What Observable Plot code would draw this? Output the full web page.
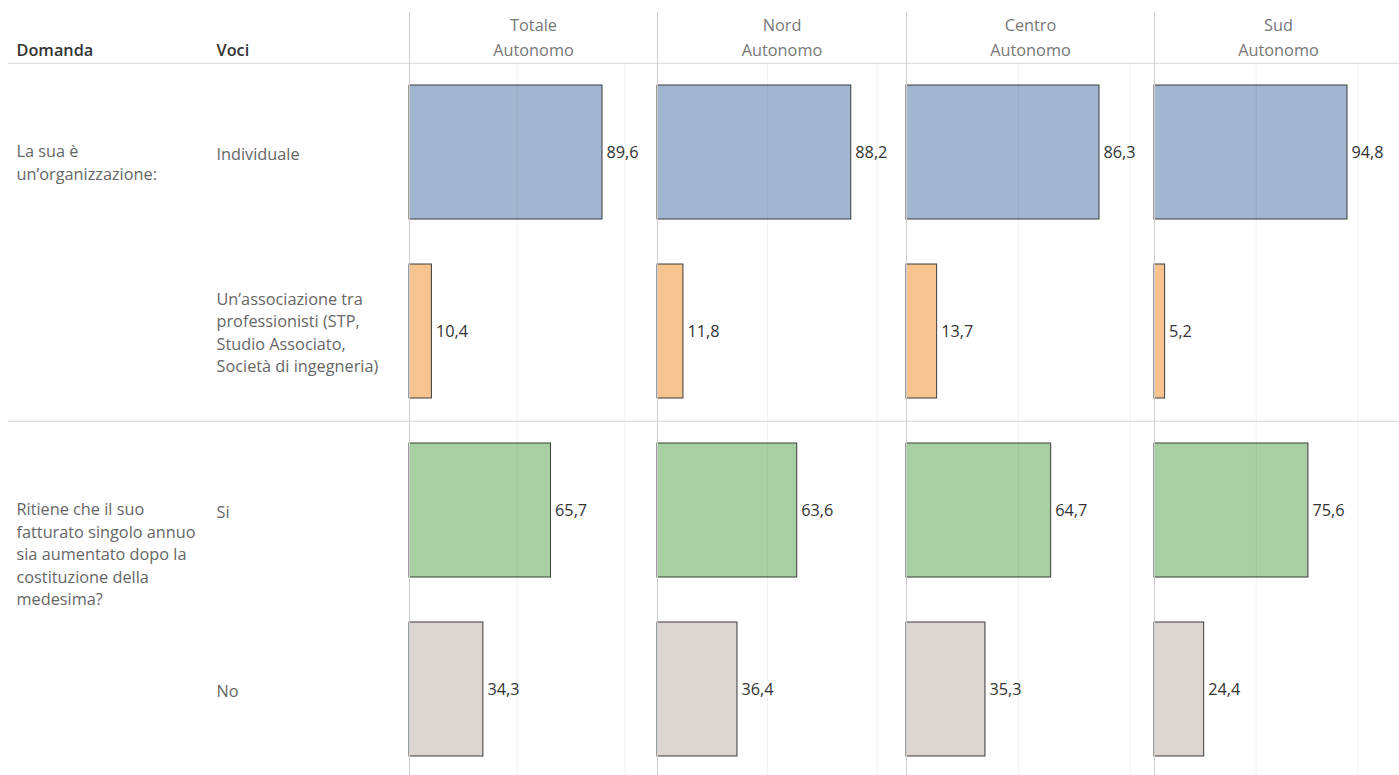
<!DOCTYPE html>
<html><head><meta charset="utf-8">
<script src="https://cdn.jsdelivr.net/npm/d3@7"></script>
<script src="https://cdn.jsdelivr.net/npm/@observablehq/plot@0.6"></script>
<style>
html,body{margin:0;padding:0;background:#fff;overflow:hidden}
#chart{display:flex;align-items:flex-start;width:1399px;height:775px;overflow:hidden}
#chart svg{display:block;flex:none}
</style></head><body><div id="chart"></div>
<script>
// ---- data ----
const regions = ["Totale", "Nord", "Centro", "Sud"];
const subHeader = "Autonomo";
const colHeaders = ["Domanda", "Voci"];
const domande = [
  "La sua è\nun’organizzazione:",
  "Ritiene che il suo\nfatturato singolo annuo\nsia aumentato dopo la\ncostituzione della\nmedesima?"
];
const voci = [
  "Individuale",
  "Un’associazione tra\nprofessionisti (STP,\nStudio Associato,\nSocietà di ingegneria)",
  "Si",
  "No"
];
const vociDomanda = [0, 0, 1, 1];
const vociRank = [0, 1, 0, 1];
const valTotale = [89.6, 10.4, 65.7, 34.3];
const valNord   = [88.2, 11.8, 63.6, 36.4];
const valCentro = [86.3, 13.7, 64.7, 35.3];
const valSud    = [94.8, 5.2, 75.6, 24.4];
const gridTicks = [50, 100];
const barColors = ["#a1b7cf", "#f7c48f", "#a7d0a2", "#dcd5d2"];

const valuesByRegion = [valTotale, valNord, valCentro, valSud];
const rows = [];
regions.forEach((r, k) => voci.forEach((v, i) => rows.push({
  region: r, voce: v, domanda: domande[vociDomanda[i]], rank: vociRank[i], value: valuesByRegion[k][i]
})));

// ---- layout ----
const FONT = "'Open Sans', sans-serif";
const FS = 16.3;
const LH = 1.38;
const LEFT = 409;
const panelW = [248, 249, 248, 248];
const H = 779, TOP = 62;
const facetH = (H - TOP) / domande.length;
const fmt = v => d3.format(".1f")(v).replace(".", ",");

function panel(k) {
  const first = k === 0;
  const data = rows.filter(d => d.region === regions[k]);
  const xMax = d3.max(data, d => d.value) * 1.285;
  const topQ = () => domande[0];
  const marks = [
    Plot.barX(data, {x: "value", y: "rank", fy: "domanda", fill: "voce", stroke: "#3a3a3a", strokeWidth: 1}),
    Plot.ruleX(gridTicks, {stroke: "#000", strokeOpacity: 0.06}),
    Plot.ruleY(domande, {y: null, fy: d => d, dy: -facetH / 2, stroke: "#d3d3d3",
      insetLeft: first ? -(LEFT - 8) : 0}),
    Plot.ruleX([0], {stroke: "#cfcfcf"}),
    Plot.ruleX([0], {fy: topQ, stroke: "#cfcfcf", insetTop: -51}),
    Plot.text(data, {x: "value", y: "rank", fy: "domanda", text: d => fmt(d.value), dx: 4,
      textAnchor: "start", fill: "#333", fontSize: FS}),
    Plot.text([regions[k]], {fy: topQ, frameAnchor: "top", dy: -44, fill: "#777", fontSize: FS}),
    Plot.text([subHeader], {fy: topQ, frameAnchor: "top", dy: -19, fill: "#777", fontSize: FS})
  ];
  if (first) {
    marks.push(
      Plot.text([colHeaders[0]], {fy: topQ, frameAnchor: "top-left", dx: -(LEFT - 16), dy: -19,
        textAnchor: "start", fill: "#333", fontWeight: 600, fontSize: FS}),
      Plot.text([colHeaders[1]], {fy: topQ, frameAnchor: "top-left", dx: -(LEFT - 216), dy: -19,
        textAnchor: "start", fill: "#333", fontWeight: 600, fontSize: FS}),
      Plot.text(data, {y: "rank", fy: "domanda", text: "voce", frameAnchor: "left", dx: -(LEFT - 216),
        textAnchor: "start", lineHeight: LH, fill: "#666", fontSize: FS}),
      Plot.text(domande, {y: () => 0, fy: d => d, frameAnchor: "left", dx: -(LEFT - 16),
        textAnchor: "start", lineAnchor: "top", dy: -11, lineHeight: LH, fill: "#666", fontSize: FS})
    );
  }
  return Plot.plot({
    width: (first ? LEFT : 0) + panelW[k],
    height: H,
    marginTop: TOP, marginBottom: 0, marginRight: 0, marginLeft: first ? LEFT : 0,
    x: {domain: [0, xMax], axis: null},
    y: {domain: [0, 1], type: "band", paddingInner: 0.25, paddingOuter: 0.125, axis: null},
    fy: {domain: domande, padding: 0, axis: null},
    color: {domain: voci, range: barColors},
    style: {fontFamily: FONT, fontSize: FS + "px", background: "white", overflow: "visible"},
    marks
  });
}

const chart = document.getElementById("chart");
regions.forEach((r, k) => chart.appendChild(panel(k)));
</script>
</body></html>
